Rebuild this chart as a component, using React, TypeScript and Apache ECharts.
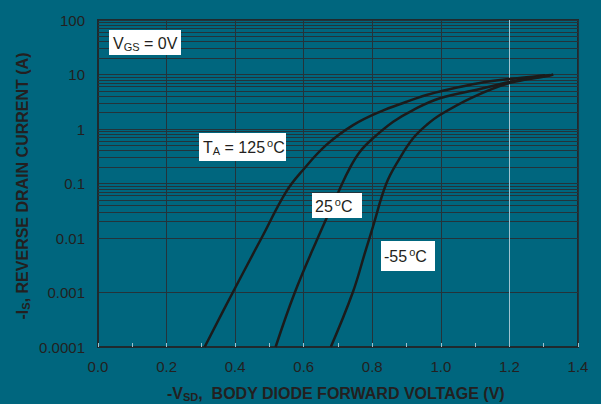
import React, { useEffect, useRef } from "react";
import * as echarts from "echarts";

// ---- data ----
// [-V_SD (V), -I_S (A)]
const curve125: [number, number][] = [
  [0.311, 0.0001], [0.393, 0.001], [0.477, 0.01], [0.549, 0.0708],
  [0.598, 0.177], [0.666, 0.51], [0.744, 1.18], [0.822, 2.07], [0.9, 3.16],
  [0.958, 4.2], [1.003, 5.0], [1.114, 6.98], [1.2, 8.26], [1.28, 9.33], [1.305, 9.7],
];
const curve25: [number, number][] = [
  [0.518, 0.0001], [0.574, 0.001], [0.641, 0.01],
  [0.705, 0.079], [0.734, 0.19], [0.764, 0.383], [0.802, 0.675],
  [0.861, 1.36], [0.919, 2.23], [0.997, 3.66], [1.114, 5.42], [1.2, 7.28],
  [1.3, 9.38], [1.318, 9.8],
];
const curveM55: [number, number][] = [
  [0.679, 0.0001], [0.743, 0.001], [0.778, 0.0052], [0.802, 0.0162],
  [0.841, 0.1], [0.88, 0.29], [0.919, 0.675], [0.958, 1.18], [0.997, 1.81],
  [1.094, 3.86], [1.2, 6.98], [1.31, 9.38], [1.328, 10.0],
];

const xTickLabels = ["0.0", "0.2", "0.4", "0.6", "0.8", "1.0", "1.2", "1.4"];
const yTickLabels = ["0.0001", "0.001", "0.01", "0.1", "1", "10", "100"];
const decades = [0.0001, 0.001, 0.01, 0.1, 1, 10];
const minorMultipliers = [2, 3, 4, 5, 6, 7, 8, 9];
const lightVerticalAt = [1.2];

const BG = "#00667e";
const DARK = "#1f2a2e";
const GRID_DARK = "#24333a";
const GRID_LIGHT = "#9fc3cf";
const TEXT = "#231f20";
const FONT = "'Liberation Sans', Arial, Helvetica, sans-serif";

function box(x: number, y: number, w: number, h: number, tx: number, ty: number, text: string) {
  return {
    type: "group",
    z: 50,
    children: [
      { type: "rect", z: 50, shape: { x, y, width: w, height: h }, style: { fill: "#ffffff" } },
      {
        type: "text",
        z: 51,
        x: tx,
        y: ty,
        style: {
          text,
          textAlign: "left",
          verticalAlign: "middle",
          textVerticalAlign: "middle",
          rich: {
            a: { fontSize: 16, fontFamily: FONT, fill: TEXT },
            s: { fontSize: 11, fontFamily: FONT, fill: TEXT, padding: [7, 0, 0, 0] },
            o: { fontSize: 11, fontFamily: FONT, fill: TEXT, padding: [0, 0, 9, 2] },
          },
        },
      },
    ],
  };
}

export default function App() {
  const ref = useRef<HTMLDivElement>(null);
  useEffect(() => {
    if (!ref.current) return;
    const chart = echarts.init(ref.current, undefined, { renderer: "svg" });

    const minorLines: any[] = [];
    decades.forEach((d) =>
      minorMultipliers.forEach((m) => minorLines.push({ yAxis: d * m }))
    );
    lightVerticalAt.forEach((v) =>
      minorLines.push({ xAxis: v, lineStyle: { color: GRID_LIGHT, width: 1, type: "solid" } })
    );

    const curveStyle = (name: string, data: [number, number][]) => ({
      name,
      type: "line",
      data,
      smooth: 0.4,
      showSymbol: false,
      symbol: "none",
      z: 5,
      lineStyle: { color: "#1b1b1b", width: 2.5 },
    });

    chart.setOption({
      animation: false,
      backgroundColor: BG,
      grid: {
        left: 98,
        right: 23,
        top: 20,
        bottom: 57,
        show: true,
        borderColor: DARK,
        borderWidth: 2,
        backgroundColor: "transparent",
      },
      xAxis: {
        type: "value",
        min: 0,
        max: 1.4,
        interval: 0.2,
        axisLine: { show: true, lineStyle: { color: DARK, width: 2 } },
        axisTick: { show: true, inside: true, length: 4, lineStyle: { color: GRID_LIGHT } },
        minorTick: { show: true, splitNumber: 2, length: 4, lineStyle: { color: GRID_LIGHT, width: 1 } },
        splitLine: { show: true, lineStyle: { color: GRID_DARK, width: 1 } },
        axisLabel: {
          margin: 12,
          fontSize: 15,
          fontFamily: FONT,
          color: TEXT,
          formatter: (v: number) => xTickLabels[Math.round(v / 0.2)] ?? "",
        },
      },
      yAxis: {
        type: "log",
        logBase: 10,
        min: 0.0001,
        max: 100,
        splitNumber: 6,
        axisLine: { show: true, lineStyle: { color: DARK, width: 2 } },
        axisTick: { show: false },
        splitLine: { show: true, lineStyle: { color: GRID_DARK, width: 1 } },
        axisLabel: {
          margin: 13,
          fontSize: 15,
          fontFamily: FONT,
          color: TEXT,
          formatter: (v: number) => yTickLabels[Math.round(Math.log10(v)) + 4] ?? "",
        },
      },
      series: [
        {
          name: "grid",
          type: "line",
          data: [[0, 0.0001]],
          showSymbol: false,
          symbol: "none",
          silent: true,
          z: 1,
          lineStyle: { opacity: 0 },
          markLine: {
            silent: true,
            symbol: "none",
            animation: false,
            z: 1,
            label: { show: false },
            lineStyle: { color: GRID_DARK, width: 1, type: "solid" },
            data: minorLines,
          },
        },
        curveStyle("125", curve125),
        curveStyle("25", curve25),
        curveStyle("-55", curveM55),
      ],
      graphic: [
        box(109, 30, 72, 25, 113, 43, "{a|V}{s|GS}{a| = 0V}"),
        box(199, 133, 87, 28, 203, 147, "{a|T}{s|A}{a| = 125}{o|o}{a|C}"),
        box(312, 193, 50, 25, 315, 206, "{a|25}{o|o}{a|C}"),
        box(381, 241, 54, 30, 384, 256, "{a|-55}{o|o}{a|C}"),
        {
          type: "text",
          x: 167,
          y: 393,
          style: {
            text: "{b|-V}{bs|SD}{b|,  BODY DIODE FORWARD VOLTAGE (V)}",
            textAlign: "left",
            verticalAlign: "middle",
            textVerticalAlign: "middle",
            rich: {
              b: { fontSize: 16, fontWeight: "bold", fontFamily: FONT, fill: TEXT },
              bs: { fontSize: 11, fontWeight: "bold", fontFamily: FONT, fill: TEXT, padding: [7, 0, 0, 0] },
            },
          },
        },
        {
          type: "text",
          x: 22,
          y: 186,
          rotation: Math.PI / 2,
          style: {
            text: "{b|-I}{bs|S}{b|, REVERSE DRAIN CURRENT (A)}",
            textAlign: "center",
            verticalAlign: "middle",
            textVerticalAlign: "middle",
            rich: {
              b: { fontSize: 16, fontWeight: "bold", fontFamily: FONT, fill: TEXT },
              bs: { fontSize: 11, fontWeight: "bold", fontFamily: FONT, fill: TEXT, padding: [7, 0, 0, 0] },
            },
          },
        },
      ],
    });
    return () => chart.dispose();
  }, []);
  return (
    <div
      ref={ref}
      style={{ position: "fixed", left: 0, top: 0, width: 601, height: 404 }}
    />
  );
}
